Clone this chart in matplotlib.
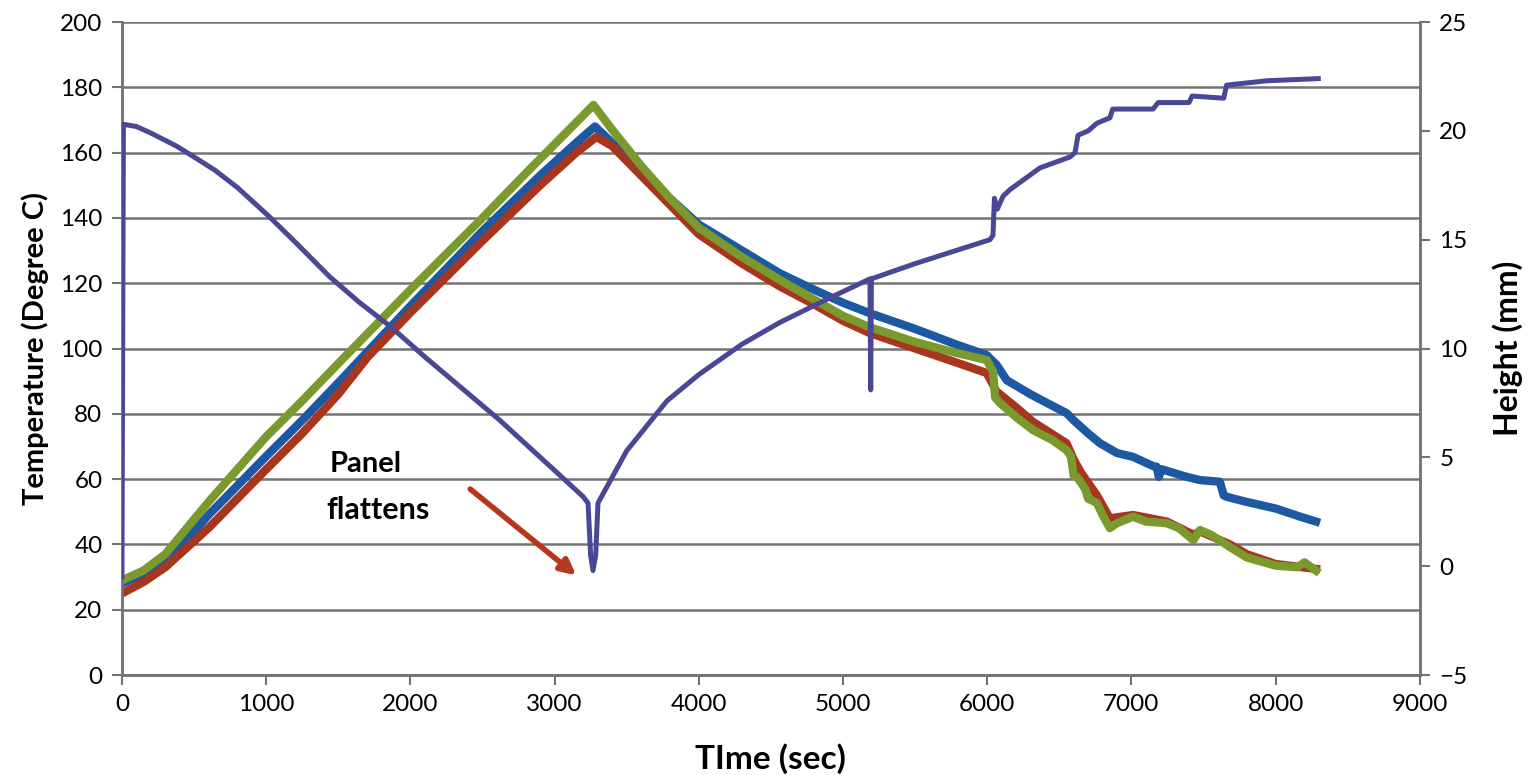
import matplotlib.pyplot as plt

plt.rcParams['font.family'] = ['Lato', 'DejaVu Sans']

# ---- data ----
t_green = [0, 150, 300, 450, 600, 800, 1000, 1250, 1546, 2000, 2500, 2830, 3100, 3270,
           3400, 3600, 3800, 4000, 4300, 4563, 4800, 5000, 5187, 5500, 5800, 5996, 6040,
           6055, 6089, 6200, 6318, 6450, 6550, 6580, 6600, 6622, 6680, 6700, 6761, 6800,
           6850, 6900, 7012, 7100, 7245, 7330, 7429, 7476, 7550, 7683, 7800, 8000, 8150,
           8200, 8280]
T_green = [29, 32, 37, 45, 53, 63, 73, 84, 97.5, 118, 140, 155, 167, 174.6,
           167, 156, 146, 137, 128, 121, 115, 110, 106.5, 102, 98.5, 96.5, 93,
           85, 83.3, 79, 75, 72, 68.9, 67, 61, 60.7, 57, 54, 52.7, 49,
           45, 46.5, 48.5, 47, 46.5, 45, 41.3, 44.4, 43, 39.2, 36, 33.5, 33,
           34.5, 32]

t_red = [0, 150, 300, 450, 600, 800, 1000, 1250, 1500, 1706, 2000, 2500, 2900, 3150, 3290,
         3400, 3600, 3800, 4000, 4300, 4563, 4800, 5000, 5187, 5500, 5800, 5996, 6040,
         6060, 6200, 6318, 6550, 6600, 6650, 6761, 6850, 7012, 7245, 7429, 7476, 7683,
         7800, 8000, 8280]
T_red = [25, 28.5, 33, 39, 45, 54, 63, 74, 86, 97.5, 111, 133, 150, 160, 164.8,
         162, 153, 144, 135, 126, 119, 113.5, 108.5, 104.7, 100, 95.5, 92.5, 89,
         87, 82, 77.5, 71, 66, 62, 55, 48, 49, 47, 43, 44, 40,
         37, 34, 32.5]

t_blue = [0, 150, 300, 450, 600, 800, 1000, 1250, 1500, 2000, 2500, 2900, 3150, 3280,
          3400, 3600, 3800, 4000, 4300, 4563, 4800, 5000, 5187, 5500, 5800, 5996, 6065,
          6089, 6135, 6300, 6450, 6551, 6597, 6700, 6782, 6900, 7012, 7150, 7175, 7190,
          7210, 7383, 7476, 7613, 7640, 7660, 7800, 8000, 8170, 8280]
T_blue = [28, 31, 35, 41.5, 49, 58, 67, 78, 89.5, 113, 136, 153, 163, 168,
          163, 155, 146, 138, 130, 123, 118, 114, 110.8, 106, 101, 98, 95,
          93.4, 90.3, 86, 82.5, 80.2, 78.1, 74, 71, 68, 66.8, 64, 63.8, 60.7,
          63, 60.7, 59.7, 59.2, 55, 54.6, 53, 51, 48.5, 47]

t_height = [0, 10, 100, 200, 378, 500, 643, 800, 1015, 1200, 1440, 1650, 1864, 2103,
            2621, 3000, 3197, 3232, 3250, 3266, 3285, 3301, 3500, 3780, 4000, 4300,
            4563, 4900, 5187, 5192, 5197, 5500, 6019, 6040, 6050, 6070, 6110, 6158,
            6366, 6450, 6574, 6609, 6630, 6700, 6761, 6851, 6870, 7150, 7185, 7400,
            7420, 7640, 7660, 7938, 8296]
h_height = [-0.5, 20.3, 20.2, 19.9, 19.3, 18.8, 18.2, 17.4, 16.1, 14.9, 13.3, 12.1, 11.0, 9.6,
            6.7, 4.4, 3.2, 2.9, 0.5, -0.2, 0.5, 2.9, 5.3, 7.6, 8.8, 10.2,
            11.2, 12.3, 13.2, 8.1, 13.2, 13.9, 15.0, 15.2, 16.9, 16.4, 17.0, 17.3,
            18.3, 18.5, 18.8, 19.0, 19.8, 20.0, 20.35, 20.6, 21.0, 21.0, 21.3, 21.3,
            21.6, 21.5, 22.1, 22.3, 22.4]

x_ticks = list(range(0, 9001, 1000))
y_ticks = list(range(0, 201, 20))
h_ticks = list(range(-5, 26, 5))

c_blue = '#1d58a3'
c_red = '#a8361f'
c_green = '#7b9a2e'
c_purple = '#4a4894'
c_grid = '#747474'

fig = plt.figure(figsize=(15.3, 7.75), dpi=100)
ax = fig.add_axes([0.0797, 0.129, 0.8483, 0.8426])

ax.plot(t_blue, T_blue, color=c_blue, lw=6, solid_joinstyle='round', zorder=3)
ax.plot(t_red, T_red, color=c_red, lw=6, solid_joinstyle='round', zorder=3)
ax.plot(t_green, T_green, color=c_green, lw=6, solid_joinstyle='round', zorder=3)

ax.set_xlim(0, 9000)
ax.set_ylim(0, 200)
ax.set_xticks(x_ticks)
ax.set_yticks(y_ticks)
ax.yaxis.grid(True, color=c_grid, lw=1.8)
ax.set_axisbelow(True)
ax.spines['top'].set_visible(False)
for s in ['left', 'bottom', 'right']:
    ax.spines[s].set_color(c_grid)
    ax.spines[s].set_linewidth(1.8)
ax.tick_params(axis='both', labelsize=17.5, color=c_grid, width=1.5, length=7, pad=7)
ax.set_ylabel('Temperature (Degree C)', fontsize=21, fontweight='bold', labelpad=8)
ax.set_xlabel('TIme (sec)', fontsize=24, fontweight='bold', labelpad=20)

ax2 = ax.twinx()
ax2.plot(t_height, h_height, color=c_purple, lw=3.6, solid_joinstyle='round', zorder=4)
ax2.set_ylim(-5, 25)
ax2.set_yticks(h_ticks)
ax2.spines['top'].set_visible(False)
for s in ['left', 'bottom', 'right']:
    ax2.spines[s].set_color(c_grid)
    ax2.spines[s].set_linewidth(1.8)
ax2.tick_params(axis='y', labelsize=17.5, color=c_grid, width=1.5, length=7, pad=7)
ax2.set_ylabel('Height (mm)', fontsize=23, fontweight='bold', labelpad=18)

# annotation
ax.text(1440, 64.5, 'Panel', fontsize=21, fontweight='bold', ha='left', va='center')
ax.text(1418, 50.5, 'flattens', fontsize=22, fontweight='bold', ha='left', va='center')
ax.annotate('', xy=(3165, 30.0), xytext=(2400, 57.5),
            arrowprops=dict(arrowstyle='-|>,head_length=0.9,head_width=0.45',
                            color='#b5381a', lw=4))

fig.savefig('out.png', dpi=100)
